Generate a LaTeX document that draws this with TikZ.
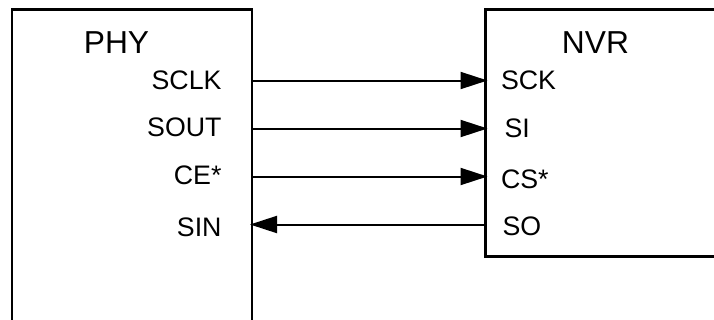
\documentclass[tikz,border=0pt]{standalone}
\usepackage{fontspec}
\setmainfont{Liberation Sans}
\usetikzlibrary{arrows.meta}

\begin{document}
\begin{tikzpicture}[
  x=0.4pt, y=-0.4pt,
  block/.style={draw, line width=1pt, inner sep=0pt, outer sep=0pt, anchor=north west},
  blocktitle/.style={anchor=base, inner sep=0pt, font=\fontsize{12.7}{15}\selectfont},
  pin/.style={inner sep=0pt, font=\fontsize{10.7}{13}\selectfont},
  wire/.style={-{Triangle[length=10.8pt, width=6.8pt]}, line width=0.8pt, shorten >=-0.8pt},
]
  \useasboundingbox (0,0) rectangle (714,320);
  \clip (0,0) rectangle (714,320);

  % Blocks (cut off by the picture border)
  \node[block, minimum width=96pt, minimum height=160pt] (phy) at (12,9.3) {};
  \node[block, minimum width=120pt, minimum height=98.9pt] (nvr) at (485.5,9.3) {};
  \node[blocktitle] (phytitle) at (116.5,53) {PHY};
  \node[blocktitle] (nvrtitle) at (595.5,53) {NVR};

  % Pin points on the block edges
  \coordinate (phy-sclk) at (252,80.5);
  \coordinate (phy-sout) at (252,128.5);
  \coordinate (phy-ce)   at (252,176.5);
  \coordinate (phy-sin)  at (252,224.5);
  \coordinate (nvr-sck)  at (485.5,80.5);
  \coordinate (nvr-si)   at (485.5,128.5);
  \coordinate (nvr-cs)   at (485.5,176.5);
  \coordinate (nvr-so)   at (485.5,224.5);

  % Pin labels
  \node[pin, anchor=base east] (sclk) at (222,90) {SCLK};
  \node[pin, anchor=base east] (sout) at (222,136.5) {SOUT};
  \node[pin, anchor=base east] (ce)   at (222,184.5) {CE*};
  \node[pin, anchor=base east] (sin)  at (222,236) {SIN};
  \node[pin, anchor=base west] (sck)  at (500.5,89.5) {SCK};
  \node[pin, anchor=base west] (si)   at (504,137.5) {SI};
  \node[pin, anchor=base west] (cs)   at (500.5,188.5) {CS*};
  \node[pin, anchor=base west] (so)   at (502,235) {SO};

  % Signals
  \draw[wire] (phy-sclk) -- (nvr-sck);
  \draw[wire] (phy-sout) -- (nvr-si);
  \draw[wire] (phy-ce) -- (nvr-cs);
  \draw[wire] (nvr-so) -- (phy-sin);
\end{tikzpicture}
\end{document}
